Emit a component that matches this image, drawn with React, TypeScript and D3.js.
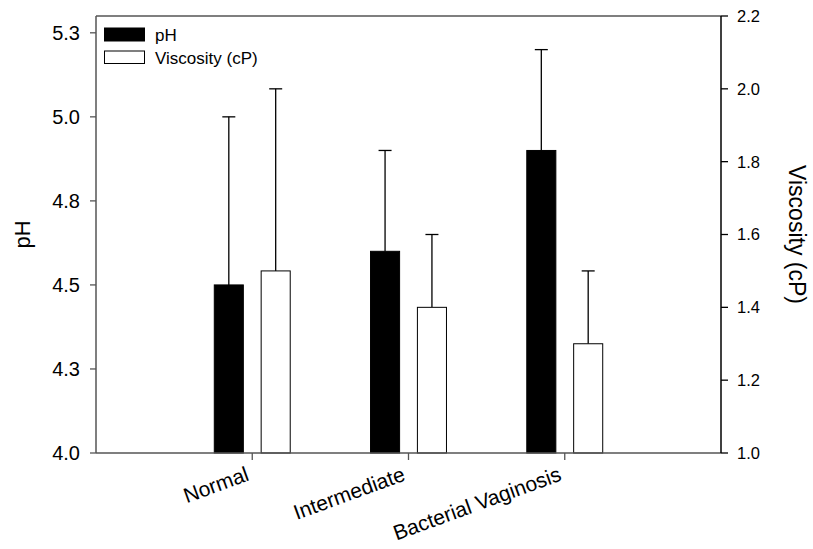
import * as d3 from "d3";

const categories = ["Normal", "Intermediate", "Bacterial Vaginosis"];
const phMean = [4.5, 4.6, 4.9];
const phErr = [0.5, 0.3, 0.3];
const viscMean = [1.5, 1.4, 1.3];
const viscErr = [0.5, 0.2, 0.2];
const phTicks = [4.0, 4.25, 4.5, 4.75, 5.0, 5.25];
const viscTicks = [1.0, 1.2, 1.4, 1.6, 1.8, 2.0, 2.2];

const W = 813;
const H = 549;
const left = 96;
const right = 721;
const top = 16;
const bottom = 453;
const font = "'Liberation Sans', Arial, sans-serif";

export default function App() {
  const x = d3.scaleLinear().domain([0, 4]).range([left, right]);
  const yPh = d3.scaleLinear().domain([4.0, 5.3]).range([bottom, top]);
  const yVi = d3.scaleLinear().domain([1.0, 2.2]).range([bottom, top]);
  const fmt = d3.format(".1f");

  const off = 0.15; // bar offset from tick, in x units
  const bw = 0.186; // bar width in x units
  const barPx = x(bw) - x(0);
  const cap = 6.5;

  return (
    <svg
      width={W}
      height={H}
      style={{ position: "absolute", left: 0, top: 0, background: "#fff" }}
      fontFamily={font}
    >
      {/* bars */}
      {categories.map((c, i) => {
        const cx1 = x(i + 1 - off);
        const cx2 = x(i + 1 + off);
        return (
          <g key={c}>
            <line x1={cx1} x2={cx1} y1={yPh(phMean[i])} y2={yPh(phMean[i] + phErr[i])} stroke="#000" strokeWidth={1.3} />
            <line x1={cx1 - cap} x2={cx1 + cap} y1={yPh(phMean[i] + phErr[i])} y2={yPh(phMean[i] + phErr[i])} stroke="#000" strokeWidth={1.3} />
            <rect x={cx1 - barPx / 2} y={yPh(phMean[i])} width={barPx} height={yPh(4.0) - yPh(phMean[i])} fill="#000" stroke="#000" />
            <line x1={cx2} x2={cx2} y1={yVi(viscMean[i])} y2={yVi(viscMean[i] + viscErr[i])} stroke="#000" strokeWidth={1.3} />
            <line x1={cx2 - cap} x2={cx2 + cap} y1={yVi(viscMean[i] + viscErr[i])} y2={yVi(viscMean[i] + viscErr[i])} stroke="#000" strokeWidth={1.3} />
            <rect x={cx2 - barPx / 2} y={yVi(viscMean[i])} width={barPx} height={yVi(1.0) - yVi(viscMean[i])} fill="#fff" stroke="#000" />
          </g>
        );
      })}

      {/* frame */}
      <line x1={left} x2={right} y1={top} y2={top} stroke="#555" strokeWidth={1.5} />
      <line x1={left} x2={left} y1={top} y2={bottom} stroke="#555" strokeWidth={1.5} />
      <line x1={left} x2={right} y1={bottom} y2={bottom} stroke="#555" strokeWidth={1.5} />
      <line x1={right} x2={right} y1={top} y2={bottom} stroke="#000" strokeWidth={1.5} />

      {/* left axis */}
      {phTicks.map((t) => (
        <g key={t}>
          <line x1={left - 6} x2={left} y1={yPh(t)} y2={yPh(t)} stroke="#555" strokeWidth={1.3} />
          <text x={left - 16} y={yPh(t)} dy="0.36em" textAnchor="end" fontSize={20} fill="#000">
            {fmt(t)}
          </text>
        </g>
      ))}
      <text transform={`translate(30,${(top + bottom) / 2}) rotate(-90)`} textAnchor="middle" fontSize={22} fill="#000">
        pH
      </text>

      {/* right axis */}
      {viscTicks.map((t) => (
        <g key={t}>
          <line x1={right} x2={right + 7} y1={yVi(t)} y2={yVi(t)} stroke="#000" strokeWidth={1.3} />
          <text x={right + 16} y={yVi(t)} dy="0.36em" textAnchor="start" fontSize={16.5} fill="#000">
            {fmt(t)}
          </text>
        </g>
      ))}
      <text transform={`translate(789,${(top + bottom) / 2}) rotate(90)`} textAnchor="middle" fontSize={23} fill="#000">
        Viscosity (cP)
      </text>

      {/* bottom axis */}
      {categories.map((c, i) => (
        <g key={c}>
          <line x1={x(i + 1)} x2={x(i + 1)} y1={bottom} y2={bottom + 7} stroke="#555" strokeWidth={1.3} />
          <text
            transform={`translate(${x(i + 1) - 2},480) rotate(-20)`}
            textAnchor="end"
            fontSize={21}
            fill="#000"
          >
            {c}
          </text>
        </g>
      ))}

      {/* legend */}
      <rect x={104.5} y={28} width={40} height={13} fill="#000" stroke="#000" />
      <text x={155} y={34.5} dy="0.36em" fontSize={17}>pH</text>
      <rect x={104.5} y={51} width={40} height={12.5} fill="#fff" stroke="#000" />
      <text x={155} y={57.5} dy="0.36em" fontSize={17}>Viscosity (cP)</text>
    </svg>
  );
}
